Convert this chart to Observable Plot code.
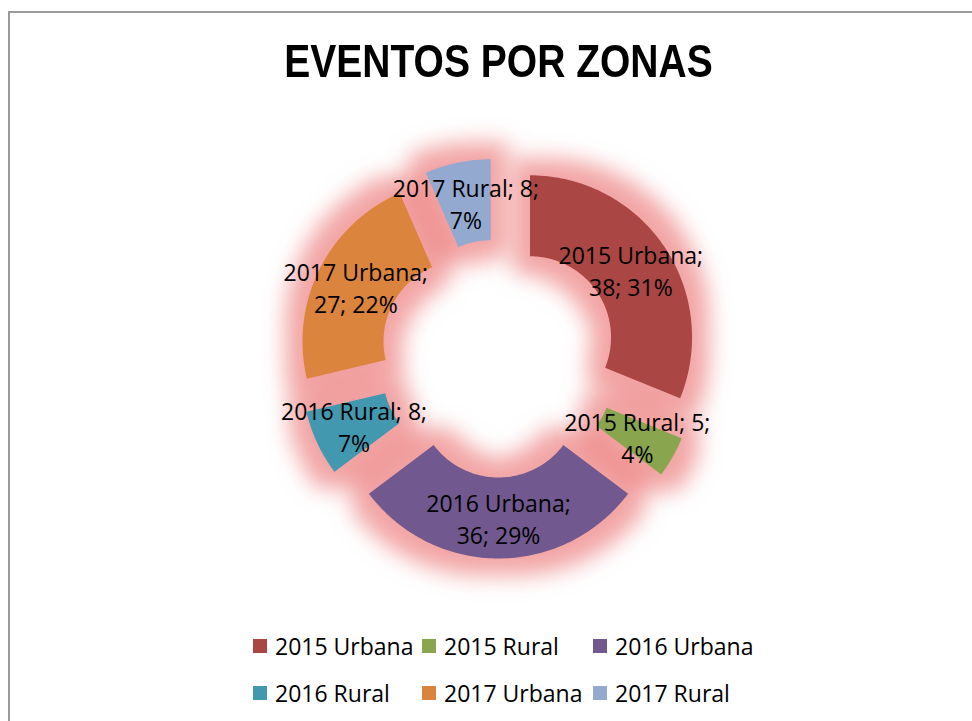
<!DOCTYPE html>
<html>
<head>
<meta charset="utf-8">
<script src="https://cdn.jsdelivr.net/npm/d3@7"></script>
<script src="https://cdn.jsdelivr.net/npm/@observablehq/plot@0.6"></script>
<style>
  html, body { margin: 0; padding: 0; background: #fff; }
  #page { position: relative; width: 972px; height: 721px; overflow: hidden; background: #fff; }
  #frame { position: absolute; left: 8px; top: 11px; width: 2000px; height: 2000px;
           border-top: 2px solid #9a9a9a; border-left: 2px solid #9a9a9a; pointer-events: none; }
  #title { position: absolute; left: 0; top: 37px; width: 997px; text-align: center;
           font-family: "Liberation Sans", Arial, sans-serif;
           font-weight: bold; font-size: 47px; line-height: 47px; color: #000;
           transform: scaleX(0.83); transform-origin: 498.5px 50%; }
  #chart { position: absolute; left: 0; top: 90px; }
  #legend { position: absolute; left: 253px; top: 622px; display: grid;
            grid-template-columns: 169px 171px 200px; grid-auto-rows: 47px;
            font-family: "Open Sans", sans-serif; font-size: 23px; color: #000; }
  .item { display: flex; align-items: center; white-space: nowrap; }
  .sw { width: 14px; height: 14px; margin-right: 8px; flex: none; }
</style>
</head>
<body>
<div id="page">
  <div id="chart"></div>
  <div id="title">EVENTOS POR ZONAS</div>
  <div id="legend"></div>
  <div id="frame"></div>
</div>
<script>
// ---- data ----
const categories = ["2015 Urbana", "2015 Rural", "2016 Urbana", "2016 Rural", "2017 Urbana", "2017 Rural"];
const values = [38, 5, 36, 8, 27, 8];
const percents = [31, 4, 29, 7, 22, 7];
const colors = ["#AA4643", "#89A54E", "#71588F", "#4198AF", "#DB843D", "#93A9CF"];
const title = "EVENTOS POR ZONAS";

// ---- geometry (layout, not data) ----
const W = 972, H = 540;
const R = 162, r = 81, explode = 38, steps = 90;

const rows = categories.map((name, i) => ({name, value: values[i], pct: percents[i]}));
const arcs = d3.pie().sort(null).value(d => d.value)(rows);

const points = [];
const labels = [];
for (const a of arcs) {
  const mid = (a.startAngle + a.endAngle) / 2;
  const ox = explode * Math.sin(mid), oy = -explode * Math.cos(mid);
  for (let i = 0; i <= steps; i++) {
    const t = a.startAngle + (a.endAngle - a.startAngle) * i / steps;
    points.push({name: a.data.name, x: ox + R * Math.sin(t), y: oy - R * Math.cos(t)});
  }
  for (let i = steps; i >= 0; i--) {
    const t = a.startAngle + (a.endAngle - a.startAngle) * i / steps;
    points.push({name: a.data.name, x: ox + r * Math.sin(t), y: oy - r * Math.cos(t)});
  }
  const rm = (R + r) / 2;
  const d = a.data;
  const short = d.name.length <= 10;
  const text = short
    ? `${d.name}; ${d.value};\n${d.pct}%`
    : `${d.name};\n${d.value}; ${d.pct}%`;
  labels.push({x: ox + rm * Math.sin(mid), y: oy - rm * Math.cos(mid), text});
}

const plot = Plot.plot({
  width: W,
  height: H,
  margin: 0,
  style: {background: "none", fontFamily: "'Open Sans', sans-serif"},
  x: {domain: [-498, 474], range: [0, W], axis: null},
  y: {domain: [-268, 272], range: [0, H], axis: null},
  color: {domain: categories, range: colors},
  marks: [
    Plot.line(points, {x: "x", y: "y", z: "name", fill: "#e05050", stroke: "none", curve: "linear-closed", ariaDescription: "glow"}),
    Plot.line(points, {x: "x", y: "y", z: "name", fill: "name", stroke: "none", curve: "linear-closed"}),
    Plot.text(labels, {x: "x", y: "y", text: "text", fontSize: 23, lineHeight: 1.39, fill: "#000"})
  ]
});

// glow filter (Excel-style soft glow around each slice)
const ns = "http://www.w3.org/2000/svg";
const defs = document.createElementNS(ns, "defs");
defs.innerHTML = `
  <filter id="glow" x="-60%" y="-60%" width="220%" height="220%" color-interpolation-filters="sRGB">
    <feMorphology in="SourceAlpha" operator="dilate" radius="17" result="d"/>
    <feGaussianBlur in="d" stdDeviation="11" result="b"/>
    <feFlood flood-color="#e65a5a" flood-opacity="0.55"/>
    <feComposite in2="b" operator="in"/>
  </filter>`;
plot.insertBefore(defs, plot.firstChild);
plot.querySelectorAll('g[aria-description="glow"] path').forEach(p => p.setAttribute("filter", "url(#glow)"));

document.getElementById("chart").appendChild(plot);

// legend
const legend = document.getElementById("legend");
categories.forEach((name, i) => {
  const item = document.createElement("div");
  item.className = "item";
  const sw = document.createElement("span");
  sw.className = "sw";
  sw.style.background = colors[i];
  const tx = document.createElement("span");
  tx.textContent = name;
  item.appendChild(sw);
  item.appendChild(tx);
  legend.appendChild(item);
});
document.getElementById("title").textContent = title;
</script>
</body>
</html>
